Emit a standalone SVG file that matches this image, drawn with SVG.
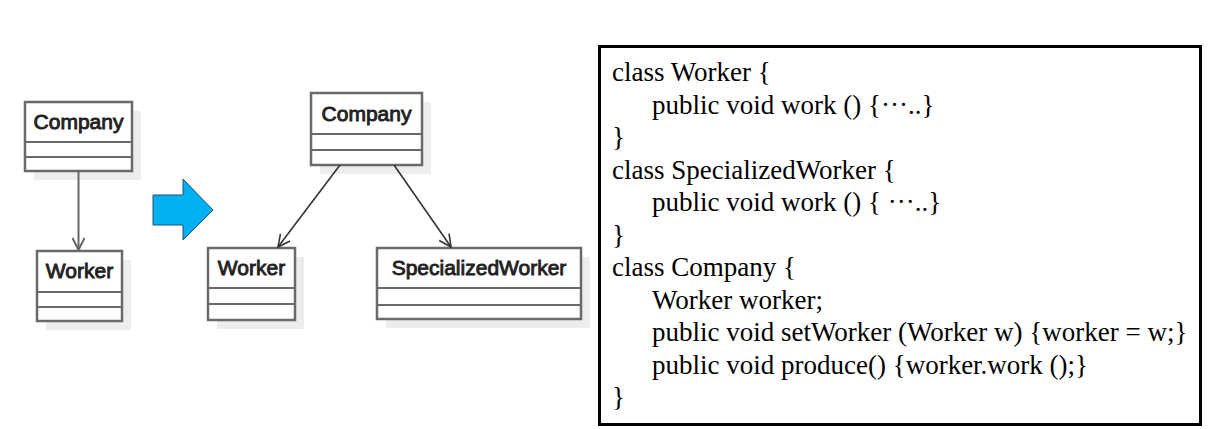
<svg xmlns="http://www.w3.org/2000/svg" width="1217" height="429" viewBox="0 0 1217 429">
<defs>
<style>
.shadow{fill:#ededed;stroke:none}
.box{fill:#fff;stroke:#6a6a6a;stroke-width:2.5}
.div{stroke:#6a6a6a;stroke-width:2}
.lbl{font-family:"Liberation Sans",Arial,sans-serif;font-size:21px;fill:#222;stroke:#222;stroke-width:0.9;text-anchor:middle}
.conn{fill:none;stroke:#333;stroke-width:1.6}
.code{font-family:"Liberation Serif","Times New Roman",serif;font-size:27px;fill:#000}
</style>
<marker id="open" viewBox="0 0 14 14" refX="13" refY="7" markerWidth="14" markerHeight="14" markerUnits="userSpaceOnUse" orient="auto">
<path d="M1,1 L13,7 L1,13" fill="none" stroke="#333" stroke-width="1.6"/>
</marker>
<marker id="openG" viewBox="0 0 14 14" refX="13" refY="7" markerWidth="14" markerHeight="14" markerUnits="userSpaceOnUse" orient="auto">
<path d="M1,1 L13,7 L1,13" fill="none" stroke="#666" stroke-width="2"/>
</marker>
</defs>
<rect width="1217" height="429" fill="#fff"/>

<g id="company-left">
<rect class="shadow" x="34" y="111" width="107" height="69"/>
<rect class="box" x="25" y="102" width="107" height="69"/>
<line class="div" x1="25" y1="142" x2="132" y2="142"/>
<line class="div" x1="25" y1="157" x2="132" y2="157"/>
<text class="lbl" x="78.5" y="129">Company</text>
</g>
<g id="worker-left">
<rect class="shadow" x="46" y="260" width="85" height="70"/>
<rect class="box" x="37" y="251" width="85" height="70"/>
<line class="div" x1="37" y1="292" x2="122" y2="292"/>
<line class="div" x1="37" y1="307" x2="122" y2="307"/>
<text class="lbl" x="79.5" y="278">Worker</text>
</g>

<g id="transform-arrow">
<path d="M153,195 L183,195 L183,179 L213,210 L183,240 L183,225 L153,225 Z" fill="#00b0f0" stroke="#1f4e79" stroke-width="1"/>
</g>

<g id="company-mid">
<rect class="shadow" x="320" y="102" width="111" height="72"/>
<rect class="box" x="311" y="93" width="111" height="72"/>
<line class="div" x1="311" y1="134" x2="422" y2="134"/>
<line class="div" x1="311" y1="150" x2="422" y2="150"/>
<text class="lbl" x="366.5" y="121">Company</text>
</g>
<g id="worker-mid">
<rect class="shadow" x="217" y="257" width="87" height="72"/>
<rect class="box" x="208" y="248" width="87" height="72"/>
<line class="div" x1="208" y1="288" x2="295" y2="288"/>
<line class="div" x1="208" y1="304" x2="295" y2="304"/>
<text class="lbl" x="251.5" y="275">Worker</text>
</g>
<g id="specialized-worker">
<rect class="shadow" x="386" y="257" width="204" height="71"/>
<rect class="box" x="377" y="248" width="204" height="71"/>
<line class="div" x1="377" y1="288" x2="581" y2="288"/>
<line class="div" x1="377" y1="305" x2="581" y2="305"/>
<text class="lbl" x="479" y="275">SpecializedWorker</text>
</g>

<g id="connectors">
<line x1="78.5" y1="171" x2="78.5" y2="250" stroke="#666" stroke-width="2" marker-end="url(#openG)"/>
<line class="conn" x1="340" y1="165" x2="278" y2="247" marker-end="url(#open)"/>
<line class="conn" x1="394" y1="165" x2="451" y2="247" marker-end="url(#open)"/>
</g>

<g id="code-box">
<rect x="599.5" y="46.5" width="601" height="378" fill="#fff" stroke="#000" stroke-width="3"/>
<text class="code" x="612" y="81">class Worker {</text>
<text class="code" x="652" y="113.5">public void work () {···..}</text>
<text class="code" x="612" y="146">}</text>
<text class="code" x="612" y="178.5">class SpecializedWorker {</text>
<text class="code" x="652" y="211">public void work () { ···..}</text>
<text class="code" x="612" y="243.5">}</text>
<text class="code" x="612" y="276">class Company {</text>
<text class="code" x="652" y="308.5">Worker worker;</text>
<text class="code" x="652" y="341">public void setWorker (Worker w) {worker = w;}</text>
<text class="code" x="652" y="373.5">public void produce() {worker.work ();}</text>
<text class="code" x="612" y="406">}</text>
</g>
</svg>
